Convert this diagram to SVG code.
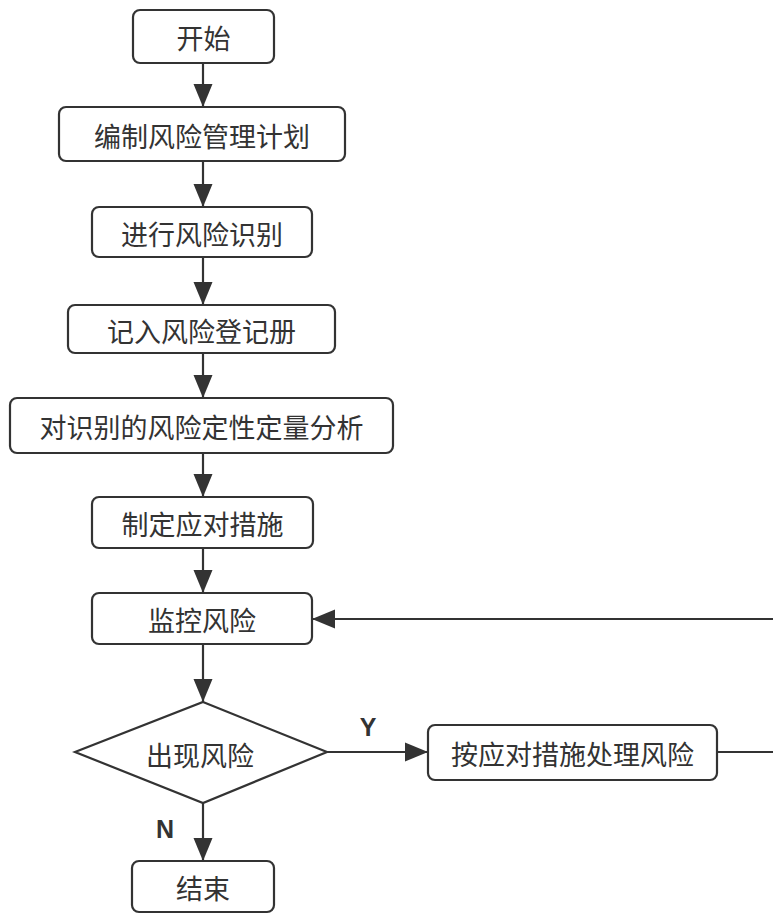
<svg xmlns="http://www.w3.org/2000/svg" width="773" height="914" viewBox="0 0 773 914">
<style>
.box{fill:#fff;stroke:#333;stroke-width:2.2}
.t{font-family:"Noto Sans CJK SC","Noto Sans",sans-serif;font-size:27px;fill:#333;text-anchor:middle;dominant-baseline:central}
.lbl{font-family:"Liberation Sans",Arial,sans-serif;font-size:25px;font-weight:bold;fill:#333;text-anchor:middle;dominant-baseline:central}
.c{fill:none;stroke:#333;stroke-width:2.2}
</style>
<defs>
<marker id="ah" markerUnits="userSpaceOnUse" markerWidth="24" markerHeight="20" refX="23" refY="10" orient="auto">
<path d="M0,0.5 L23,10 L0,19.5 z" fill="#333"/>
</marker>
</defs>
<rect width="773" height="914" fill="#fff"/>
<g id="connectors">
<line class="c" x1="203" y1="63" x2="203" y2="107" marker-end="url(#ah)"/>
<line class="c" x1="203" y1="161" x2="203" y2="207" marker-end="url(#ah)"/>
<line class="c" x1="203" y1="257" x2="203" y2="305" marker-end="url(#ah)"/>
<line class="c" x1="203" y1="353" x2="203" y2="398" marker-end="url(#ah)"/>
<line class="c" x1="203" y1="453" x2="203" y2="497" marker-end="url(#ah)"/>
<line class="c" x1="203" y1="548" x2="203" y2="593" marker-end="url(#ah)"/>
<line class="c" x1="203" y1="644" x2="203" y2="702" marker-end="url(#ah)"/>
<line class="c" x1="203" y1="803" x2="203" y2="861" marker-end="url(#ah)"/>
<line class="c" x1="327" y1="752" x2="428" y2="752" marker-end="url(#ah)"/>
<path class="c" d="M717,752 H790 V619 H312" marker-end="url(#ah)"/>
<text class="lbl" x="368" y="727">Y</text>
<text class="lbl" x="165" y="829">N</text>
</g>
<g id="start"><rect class="box" x="133" y="10" width="141" height="53" rx="7"/><text class="t" x="203.5" y="37">开始</text></g>
<g id="plan"><rect class="box" x="59" y="107" width="286" height="54" rx="7"/><text class="t" x="202" y="135">编制风险管理计划</text></g>
<g id="identify"><rect class="box" x="92" y="207" width="220" height="50" rx="7"/><text class="t" x="202" y="233">进行风险识别</text></g>
<g id="register"><rect class="box" x="68" y="305" width="267" height="48" rx="7"/><text class="t" x="201.5" y="330">记入风险登记册</text></g>
<g id="analyze"><rect class="box" x="10" y="398" width="383" height="55" rx="7"/><text class="t" x="201.5" y="426">对识别的风险定性定量分析</text></g>
<g id="measures"><rect class="box" x="92" y="497" width="221" height="51" rx="7"/><text class="t" x="202.5" y="523">制定应对措施</text></g>
<g id="monitor"><rect class="box" x="92" y="593" width="220" height="51" rx="7"/><text class="t" x="202" y="619">监控风险</text></g>
<g id="decision"><polygon class="box" points="203,702 327,752 203,803 75,752"/><text class="t" x="200" y="754">出现风险</text></g>
<g id="handle"><rect class="box" x="428" y="725" width="289" height="55" rx="7"/><text class="t" x="572.5" y="753">按应对措施处理风险</text></g>
<g id="end"><rect class="box" x="132" y="861" width="142" height="51" rx="7"/><text class="t" x="203" y="887">结束</text></g>
</svg>
